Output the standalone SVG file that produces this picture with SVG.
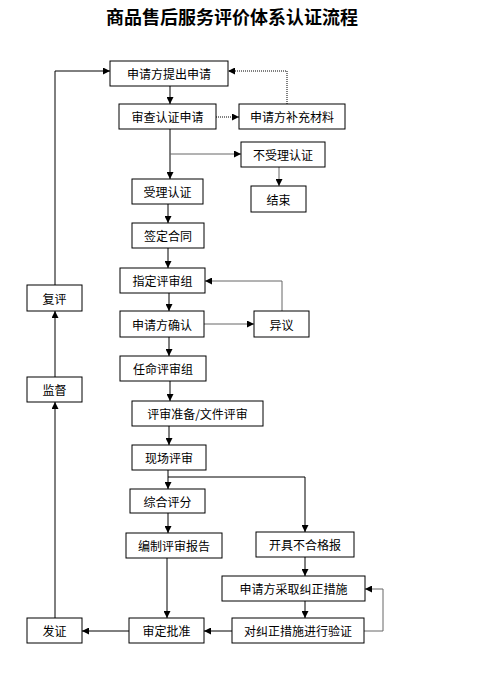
<svg xmlns="http://www.w3.org/2000/svg" width="479" height="676" viewBox="0 0 479 676">
<style>
.box{fill:#fff;stroke:#000;stroke-width:1}
.t{font-family:"Noto Sans CJK SC","Noto Sans",sans-serif;font-size:12px;fill:#000;text-anchor:middle;dominant-baseline:central}
.title{font-family:"Noto Sans CJK SC",sans-serif;font-size:18px;font-weight:700;fill:#000;text-anchor:middle}
.c{fill:none;stroke:#000;stroke-width:1}
.g{fill:none;stroke:#666;stroke-width:1}
.d{fill:none;stroke:#000;stroke-width:1;stroke-dasharray:1,1}
</style>
<defs>
<marker id="a" viewBox="0 0 8 8" refX="8" refY="4" markerWidth="7" markerHeight="7" markerUnits="userSpaceOnUse" orient="auto"><path d="M0,0L8,4L0,8z" fill="#000"/></marker>
</defs>
<rect width="479" height="676" fill="#fff"/>
<text class="title" x="232" y="24">商品售后服务评价体系认证流程</text>
<g id="connectors">
<path class="c" d="M170,86V104" marker-end="url(#a)"/>
<path class="d" d="M216,117H239" marker-end="url(#a)"/>
<path class="d" d="M287,104V71H228" marker-end="url(#a)"/>
<path class="c" d="M55,285V71H110" marker-end="url(#a)"/>
<path class="c" d="M170,129V179" marker-end="url(#a)"/>
<path class="g" d="M170,154H241" marker-end="url(#a)"/>
<path class="g" d="M279,167V186" marker-end="url(#a)"/>
<path class="c" d="M168,204V223" marker-end="url(#a)"/>
<path class="c" d="M168,248V268" marker-end="url(#a)"/>
<path class="c" d="M169,293V311" marker-end="url(#a)"/>
<path class="g" d="M204,324H254" marker-end="url(#a)"/>
<path class="g" d="M282,311V281H205" marker-end="url(#a)"/>
<path class="c" d="M169,337V356" marker-end="url(#a)"/>
<path class="c" d="M55,377V311" marker-end="url(#a)"/>
<path class="c" d="M170,381V401" marker-end="url(#a)"/>
<path class="c" d="M169,426V445" marker-end="url(#a)"/>
<path class="c" d="M168,470V489" marker-end="url(#a)"/>
<path class="c" d="M168,477H305V532" marker-end="url(#a)"/>
<path class="c" d="M168,513V533" marker-end="url(#a)"/>
<path class="c" d="M305,557V576" marker-end="url(#a)"/>
<path class="c" d="M305,601V618" marker-end="url(#a)"/>
<path class="g" d="M364,631H383V589H365" marker-end="url(#a)"/>
<path class="c" d="M167,558V618" marker-end="url(#a)"/>
<path class="c" d="M232,631H204" marker-end="url(#a)"/>
<path class="c" d="M129,631H82" marker-end="url(#a)"/>
<path class="c" d="M55,618V402" marker-end="url(#a)"/>
</g>
<g id="n1"><rect class="box" x="110" y="61" width="118" height="25"/><text class="t" x="169" y="73.5">申请方提出申请</text></g>
<g id="n2"><rect class="box" x="119" y="104" width="97" height="25"/><text class="t" x="167.5" y="116.5">审查认证申请</text></g>
<g id="n3"><rect class="box" x="239" y="104" width="106" height="25"/><text class="t" x="292" y="116.5">申请方补充材料</text></g>
<g id="n4"><rect class="box" x="241" y="142" width="84" height="25"/><text class="t" x="283" y="154.5">不受理认证</text></g>
<g id="n5"><rect class="box" x="132" y="179" width="71" height="25"/><text class="t" x="167.5" y="191.5">受理认证</text></g>
<g id="n6"><rect class="box" x="251" y="186" width="55" height="26"/><text class="t" x="278.5" y="199">结束</text></g>
<g id="n7"><rect class="box" x="132" y="223" width="72" height="25"/><text class="t" x="168" y="235.5">签定合同</text></g>
<g id="n8"><rect class="box" x="120" y="268" width="85" height="25"/><text class="t" x="162.5" y="280.5">指定评审组</text></g>
<g id="n9"><rect class="box" x="27" y="285" width="55" height="26"/><text class="t" x="54.5" y="298">复评</text></g>
<g id="n10"><rect class="box" x="120" y="311" width="84" height="26"/><text class="t" x="162" y="324">申请方确认</text></g>
<g id="n11"><rect class="box" x="254" y="311" width="55" height="26"/><text class="t" x="281.5" y="324">异议</text></g>
<g id="n12"><rect class="box" x="120" y="356" width="86" height="25"/><text class="t" x="163" y="368.5">任命评审组</text></g>
<g id="n13"><rect class="box" x="27" y="377" width="55" height="25"/><text class="t" x="54.5" y="389.5">监督</text></g>
<g id="n14"><rect class="box" x="132" y="401" width="131" height="25"/><text class="t" x="197.5" y="413.5">评审准备/文件评审</text></g>
<g id="n15"><rect class="box" x="132" y="445" width="74" height="25"/><text class="t" x="169" y="457.5">现场评审</text></g>
<g id="n16"><rect class="box" x="130" y="489" width="75" height="24"/><text class="t" x="167.5" y="501">综合评分</text></g>
<g id="n17"><rect class="box" x="126" y="533" width="96" height="25"/><text class="t" x="174" y="545.5">编制评审报告</text></g>
<g id="n18"><rect class="box" x="256" y="532" width="98" height="25"/><text class="t" x="305" y="544.5">开具不合格报</text></g>
<g id="n19"><rect class="box" x="222" y="576" width="143" height="25"/><text class="t" x="293.5" y="588.5">申请方采取纠正措施</text></g>
<g id="n20"><rect class="box" x="232" y="618" width="132" height="25"/><text class="t" x="298" y="630.5">对纠正措施进行验证</text></g>
<g id="n21"><rect class="box" x="129" y="618" width="75" height="25"/><text class="t" x="166.5" y="630.5">审定批准</text></g>
<g id="n22"><rect class="box" x="27" y="618" width="55" height="25"/><text class="t" x="54.5" y="630.5">发证</text></g>
</svg>
